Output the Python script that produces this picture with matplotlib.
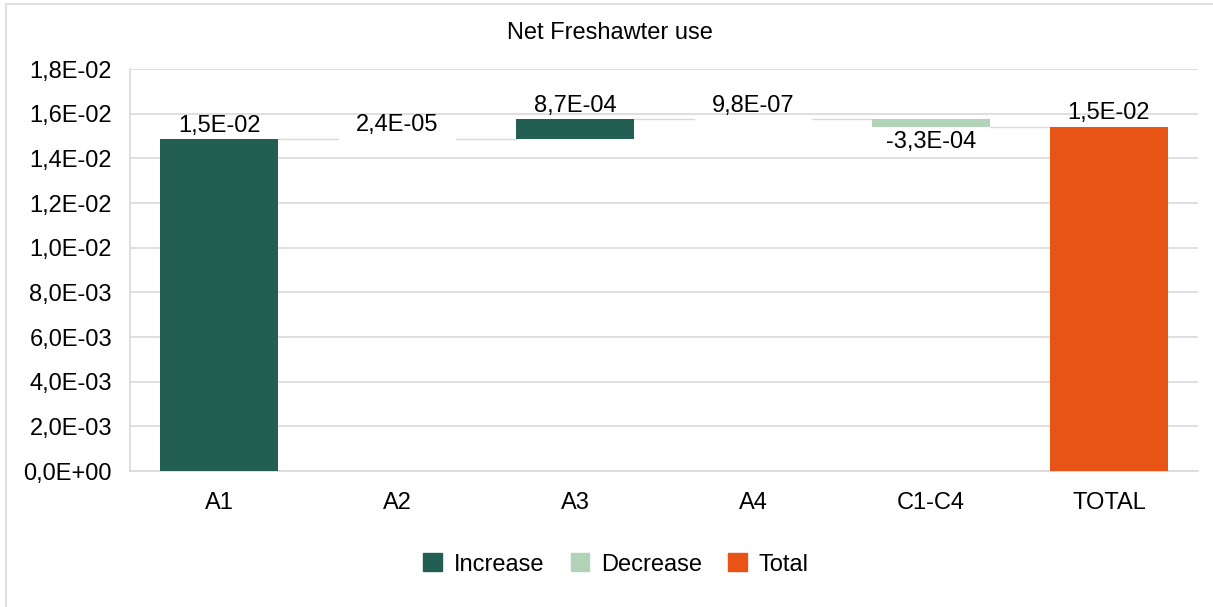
import matplotlib.pyplot as plt
from matplotlib.patches import Rectangle, Patch
from matplotlib.ticker import FuncFormatter, MultipleLocator

plt.rcParams['font.family'] = ['Liberation Sans', 'DejaVu Sans']

# Data
categories = ['A1', 'A2', 'A3', 'A4', 'C1-C4', 'TOTAL']
steps = [0.01485, 2.4e-05, 8.7e-04, 9.8e-07, -3.3e-04]

c_inc = '#225f52'
c_dec = '#b3d3b9'
c_tot = '#e85316'
grid_c = '#d9d9d9'


def sci_comma(v, pos=None):
    return f'{v:.1E}'.replace('.', ',')


fig = plt.figure(figsize=(12.13, 6.07), dpi=100)
ax = fig.add_axes([0.1072, 0.224, 0.8804, 0.6623])

# outer frame
fig.patches.append(Rectangle((6 / 1213, -0.05), 1.2, 1.05 - 4 / 607,
                             transform=fig.transFigure, fill=False,
                             edgecolor='#d9d9d9', lw=1.2))

width = 0.66
running = 0.0
ends = []
for i, v in enumerate(steps):
    bottom = running if v >= 0 else running + v
    color = c_inc if v >= 0 else c_dec
    ax.bar(i, abs(v), bottom=bottom, width=width, color=color, zorder=3)
    running += v
    ends.append(running)
    if v >= 0:
        ax.annotate(sci_comma(v), (i, running), xytext=(0, 2),
                    textcoords='offset points', ha='center', va='bottom',
                    fontsize=17, zorder=4)
    else:
        ax.annotate(sci_comma(v), (i, running), xytext=(0, -3),
                    textcoords='offset points', ha='center', va='top',
                    fontsize=17, zorder=4)

total = running
ti = len(steps)
ax.bar(ti, total, width=width, color=c_tot, zorder=3)
ax.annotate(sci_comma(total), (ti, total), xytext=(0, 2),
            textcoords='offset points', ha='center', va='bottom',
            fontsize=17, zorder=4)

# connector lines
for i, e in enumerate(ends):
    ax.plot([i + width / 2, i + 1 - width / 2], [e, e], color=grid_c,
            lw=1, zorder=2)

ax.set_xlim(-0.5, 5.5)
ax.set_ylim(0, 0.018)
ax.yaxis.set_major_locator(MultipleLocator(0.002))
ax.yaxis.set_major_formatter(FuncFormatter(sci_comma))
ax.set_xticks(range(len(categories)))
ax.set_xticklabels(categories)
ax.tick_params(axis='both', length=0, labelsize=17)
ax.tick_params(axis='y', pad=13)
ax.tick_params(axis='x', pad=15)
ax.grid(axis='y', color=grid_c, lw=1.2, zorder=0)
for s in ['top', 'right']:
    ax.spines[s].set_visible(False)
for s in ['left', 'bottom']:
    ax.spines[s].set_color(grid_c)
    ax.spines[s].set_linewidth(1.2)

fig.text(0.503, 0.9456, 'Net Freshawter use', ha='center', va='center',
         fontsize=17)

handles = [Patch(color=c_inc, label='Increase'),
           Patch(color=c_dec, label='Decrease'),
           Patch(color=c_tot, label='Total')]
fig.legend(handles=handles, loc='center', bbox_to_anchor=(0.508, 0.07),
           ncol=3, frameon=False, fontsize=17, handlelength=0.8,
           handleheight=0.8, handletextpad=0.5, columnspacing=1.1)

fig.savefig('out.png', dpi=100)
